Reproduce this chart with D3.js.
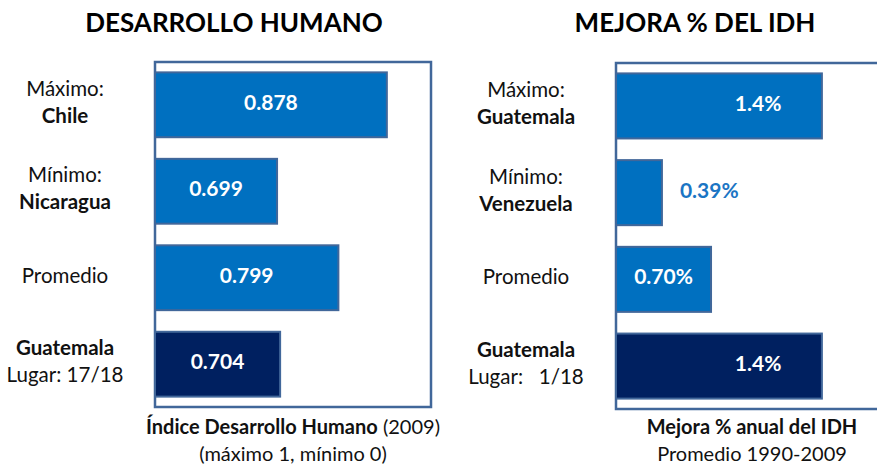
<!DOCTYPE html>
<html>
<head>
<meta charset="utf-8">
<script src="https://cdn.jsdelivr.net/npm/d3@7"></script>
<style>
  body { margin: 0; background: #fff; }
  svg { display: block; font-family: Lato, "Open Sans", sans-serif; }
</style>
</head>
<body>
<div id="container"></div>
<script>
/**
 * CONSTANTS AND GLOBALS
 * */
const width = 877,
  height = 465;

const frameColor = "#41679A",
  blue = "#0070C0",
  navy = "#002060";

/**
 * DATA
 * */
const rows = ["max", "min", "avg", "gt"];

// left panel: indice de desarrollo humano 2009
const idhLine1 = ["Máximo:", "Mínimo:", "Promedio", "Guatemala"];
const idhLine2 = ["Chile", "Nicaragua", "", "Lugar: 17/18"];
const idhBold = [[false, true], [false, true], [false, false], [true, false]];
const idhValues = [0.878, 0.699, 0.799, 0.704];
const idhLabels = ["0.878", "0.699", "0.799", "0.704"];

// right panel: mejora % anual del IDH 1990-2009
const mejoraLine1 = ["Máximo:", "Mínimo:", "Promedio", "Guatemala"];
const mejoraLine2 = ["Guatemala", "Venezuela", "", "Lugar:   1/18"];
const mejoraBold = [[false, true], [false, true], [false, false], [true, false]];
const mejoraValues = [1.4, 0.39, 0.70, 1.4];
const mejoraLabels = ["1.4%", "0.39%", "0.70%", "1.4%"];

const barColors = [blue, blue, blue, navy];

let svg;

/**
 * INIT
 * */
svg = d3.select("#container")
  .append("svg")
  .attr("width", width)
  .attr("height", height);

drawPanel({
  title: "DESARROLLO HUMANO",
  titleX: 234,
  labelX: 65,
  frame: { x0: 155, x1: 431, y0: 62, y1: 407 },
  domain: [0.5, 0.95],
  values: idhValues,
  labels: idhLabels,
  line1: idhLine1,
  line2: idhLine2,
  bold: idhBold,
  captionX: 293,
  caption1: [["Índice Desarrollo Humano", 700], [" (2009)", 400]],
  caption2: "(máximo 1, mínimo 0)",
  labelPos: (x0, x1) => (x0 + x1) / 2
});

drawPanel({
  title: "MEJORA % DEL IDH",
  titleX: 695,
  labelX: 526,
  frame: { x0: 616, x1: 890, y0: 63, y1: 409 },
  domain: [0.1, 1.83],
  values: mejoraValues,
  labels: mejoraLabels,
  line1: mejoraLine1,
  line2: mejoraLine2,
  bold: mejoraBold,
  captionX: 752,
  caption1: [["Mejora % anual del IDH", 700]],
  caption2: "Promedio 1990-2009",
  labelPos: (x0, x1) => x0 + (x1 - x0) * (x1 - x0 > 150 ? 0.69 : 0.5)
});

/**
 * DRAW A PANEL
 * */
function drawPanel(p) {
  const g = svg.append("g");
  const f = p.frame;

  const x = d3.scaleLinear()
    .domain(p.domain)
    .range([f.x0, f.x1]);

  const y = d3.scaleBand()
    .domain(rows)
    .range([f.y0, f.y1])
    .paddingInner(0.25)
    .paddingOuter(0.12);

  // title
  g.append("text")
    .attr("x", p.titleX)
    .attr("y", 32)
    .attr("text-anchor", "middle")
    .attr("font-size", 26)
    .attr("font-weight", 700)
    .attr("fill", "#000")
    .text(p.title);

  // frame
  g.append("rect")
    .attr("x", f.x0)
    .attr("y", f.y0)
    .attr("width", f.x1 - f.x0)
    .attr("height", f.y1 - f.y0)
    .attr("fill", "none")
    .attr("stroke", frameColor)
    .attr("stroke-width", 2.5);

  const data = rows.map((r, i) => ({
    row: r,
    value: p.values[i],
    label: p.labels[i],
    color: barColors[i],
    l1: p.line1[i],
    l2: p.line2[i],
    bold: p.bold[i]
  }));

  // bars
  g.selectAll("rect.bar")
    .data(data)
    .join("rect")
    .attr("class", "bar")
    .attr("x", f.x0)
    .attr("y", d => y(d.row))
    .attr("width", d => x(d.value) - f.x0)
    .attr("height", y.bandwidth())
    .attr("fill", d => d.color)
    .attr("stroke", frameColor)
    .attr("stroke-width", 2);

  // value labels: inside the bar if it fits, otherwise just after it
  g.selectAll("text.value")
    .data(data)
    .join("text")
    .attr("class", "value")
    .attr("font-size", 21)
    .attr("font-weight", 700)
    .each(function (d) {
      const w = x(d.value) - f.x0;
      const inside = w > 70;
      d3.select(this)
        .attr("x", inside ? p.labelPos(f.x0, x(d.value)) : x(d.value) + 18)
        .attr("y", y(d.row) + y.bandwidth() / 2 + 5)
        .attr("text-anchor", inside ? "middle" : "start")
        .attr("fill", inside ? "#fff" : "#1B75C4")
        .text(d.label);
    });

  // category labels
  g.selectAll("text.cat")
    .data(data)
    .join("text")
    .attr("class", "cat")
    .attr("x", p.labelX)
    .attr("text-anchor", "middle")
    .attr("font-size", 20.5)
    .attr("fill", "#111")
    .each(function (d) {
      const mid = y(d.row) + y.bandwidth() / 2;
      const t = d3.select(this);
      if (!d.l2) {
        t.attr("y", mid + 5).text(d.l1);
        return;
      }
      t.append("tspan")
        .attr("x", p.labelX)
        .attr("y", mid - 9)
        .attr("font-weight", d.bold[0] ? 700 : 400)
        .text(d.l1);
      t.append("tspan")
        .attr("x", p.labelX)
        .attr("y", mid + 18)
        .attr("font-weight", d.bold[1] ? 700 : 400)
        .style("white-space", "pre")
        .text(d.l2);
    });

  // captions under the frame
  const c1 = g.append("text")
    .attr("x", p.captionX)
    .attr("y", 434)
    .attr("text-anchor", "middle")
    .attr("font-size", 20)
    .attr("fill", "#111");
  c1.selectAll("tspan")
    .data(p.caption1)
    .join("tspan")
    .attr("font-weight", d => d[1])
    .style("white-space", "pre")
    .text(d => d[0]);

  g.append("text")
    .attr("x", p.captionX)
    .attr("y", 461)
    .attr("text-anchor", "middle")
    .attr("font-size", 20)
    .attr("fill", "#111")
    .text(p.caption2);
}
</script>
</body>
</html>
